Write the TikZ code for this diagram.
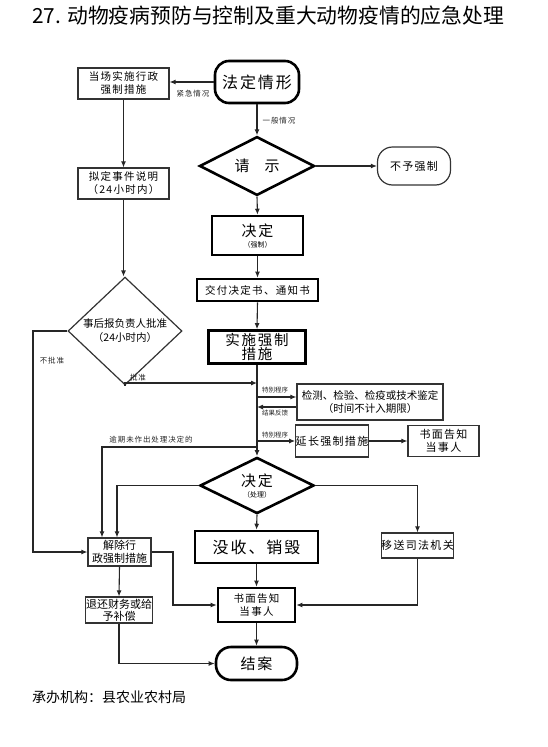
\documentclass[tikz,border=0pt]{standalone}
\usepackage{fontspec}
\newfontfamily\cjk{Noto Sans CJK SC}
\newfontfamily\cjksp[LetterSpace=12]{Noto Sans CJK SC}
\usetikzlibrary{arrows.meta,shapes.geometric}
\tikzset{
  box/.style={draw=black!80, line width=1.2pt, inner sep=0pt, align=center, fill=white},
  heavy/.style={draw=black, line width=2.6pt, inner sep=0pt, align=center, fill=white},
  dia/.style={diamond, inner sep=0pt, align=center},
  conn/.style={draw=black!85, line width=1.1pt},
  arr/.style={conn, -{Latex[length=6pt,width=5pt]}},
  lbl/.style={inner sep=0pt, font=\cjksp\fontsize{7.5}{9}\selectfont, text=black!85},
  tiny/.style={inner sep=0pt, font=\cjk\fontsize{6.5}{8}\selectfont, text=black!85},
  fs/.style={font=\cjksp\fontsize{#1}{#1}\selectfont},
}
\begin{document}
\begin{tikzpicture}[x=1pt,y=-1pt]
\useasboundingbox (0,0) rectangle (547,747);

% title and footer
\node[anchor=west, inner sep=0pt, font=\cjk\fontsize{20.8}{24}\selectfont] (title) at (32,16) {27. 动物疫病预防与控制及重大动物疫情的应急处理};
\node[anchor=west, inner sep=0pt, font=\cjk\fontsize{14}{16}\selectfont] (foot) at (32,697) {承办机构：县农业农村局};

% main column
\node[heavy, rounded corners=14pt, minimum width=84pt, minimum height=42pt, fs=16] (start) at (257,82) {法定情形};
\node[heavy, dia, minimum width=115pt, minimum height=54pt, fs=15] (d0) at (257,166) {请\hspace{1em}示};
\node[box, rounded corners=15pt, minimum width=73pt, minimum height=38pt, fs=11] (nocoerce) at (414,166) {不予强制};
\node[heavy, minimum width=91pt, minimum height=39pt] (dec1) at (257.5,235.5) {{\cjksp\fontsize{15}{17}\selectfont 决定}\\[-1pt]{\cjk\fontsize{7}{8}\selectfont （强制）}};
\node[heavy, minimum width=121pt, minimum height=22pt, fs=10.5] (deliver) at (257.5,290) {交付决定书、通知书};
\node[heavy, minimum width=97pt, minimum height=33pt, font=\cjksp\fontsize{14.5}{14}\selectfont] (impl) at (257,347) {实施强制\\措施};
\node[box, minimum width=146pt, minimum height=36pt, font=\cjk\fontsize{10.5}{13}\selectfont] (test) at (370,402) {检测、检验、检疫或技术鉴定\\（时间不计入期限）};
\node[box, minimum width=70pt, minimum height=32pt, fs=11] (ext) at (332,441) {延长强制措施};
\node[box, minimum width=71pt, minimum height=31pt, font=\cjksp\fontsize{11}{13}\selectfont] (notice1) at (443.5,441) {书面告知\\当事人};
\node[heavy, dia, minimum width=114pt, minimum height=55pt] (d2) at (257,485.5) {{\cjksp\fontsize{15}{16}\selectfont 决定}\\[-1pt]{\cjk\fontsize{7}{8}\selectfont （处理）}};
\node[heavy, minimum width=123pt, minimum height=32pt, fs=16] (confisc) at (256.5,547) {没收、销毁};
\node[box, minimum width=71pt, minimum height=25pt, fs=11] (transfer) at (417.5,545.5) {移送司法机关};
\node[heavy, minimum width=77pt, minimum height=34pt, font=\cjksp\fontsize{10.5}{13}\selectfont] (notice2) at (256.5,605) {书面告知\\当事人};
\node[heavy, rounded corners=15pt, minimum width=81pt, minimum height=33pt, fs=15] (end) at (256.5,663.5) {结案};

% left column
\node[box, minimum width=91pt, minimum height=31pt, font=\cjksp\fontsize{10.5}{13}\selectfont] (onsite) at (123.5,83.5) {当场实施行政\\强制措施};
\node[box, minimum width=91pt, minimum height=31pt, font=\cjksp\fontsize{10.5}{13}\selectfont] (draft) at (123.5,183.5) {拟定事件说明\\（24小时内）};
\node[box, dia, minimum width=114pt, minimum height=74pt, font=\cjk\fontsize{10.5}{14}\selectfont] (d1) at (125,331) {事后报负责人批准\\（24小时内）};
\node[box, minimum width=63pt, minimum height=28pt, font=\cjk\fontsize{11}{13}\selectfont] (release) at (119.5,552) {解除行\\政强制措施};
\node[box, minimum width=67pt, minimum height=26pt, font=\cjk\fontsize{11}{12}\selectfont] (refund) at (119,610) {退还财务或给\\予补偿};

% helper coordinates
\coordinate (pz) at (257,383);
\coordinate (t1) at (257,397);
\coordinate (t2) at (257,407);
\coordinate (t3) at (257,441);
\coordinate (t4) at (257,447);
\coordinate (rx1) at (102,0);
\coordinate (rx2) at (117,0);
\coordinate (nx) at (33,0);
\coordinate (cx) at (173,0);

% connectors
\draw[arr] (start.west) -- (start.west -| onsite.east);
\draw[arr] (start.south) -- (d0.north);
\draw[arr] (d0.east) -- (nocoerce.west);
\draw[arr] (d0.south) -- (dec1.north);
\draw[arr] (dec1.south) -- (deliver.north);
\draw[arr] (deliver.south) -- (impl.north);
\draw[arr] (impl.south) -- (d2.north);
\draw[arr] (onsite.south) -- (draft.north);
\draw[arr] (draft.south) -- (draft.south |- d1.north);
\draw[arr] (d1.south) |- (pz);
\draw[arr] (t1) -- (t1 -| test.west);
\draw[arr] (t2 -| test.west) -- (t2);
\draw[arr] (t3) -- (ext.west);
\draw[arr] (ext.east) -- (notice1.west);
\draw[arr] (t4) -| (rx1 |- release.north);
\draw[arr] (d2.west) -| (rx2 |- release.north);
\draw[arr] (d2.east) -| (transfer.north);
\draw[arr] (d2.south) -- (confisc.north);
\draw[arr] (d1.west) -| (nx |- release.west) -- (release.west);
\draw[arr] (release.east) -| (cx |- notice2.west) -- (notice2.west);
\draw[arr] (release.south) -- (refund.north);
\draw[arr] (refund.south) |- (end.west);
\draw[arr] (transfer.south) |- (notice2.east);
\draw[arr] (confisc.south) -- (notice2.north);
\draw[arr] (notice2.south) -- (end.north);

% labels
\node[lbl] (l1) at (193,94) {紧急情况};
\node[lbl] (l2) at (279,121) {一般情况};
\node[lbl] (l3) at (52,361) {不批准};
\node[lbl] (l4) at (138,378) {批准};
\node[tiny] (l5) at (275,390) {特别程序};
\node[tiny] (l6) at (275,413) {结果反馈};
\node[tiny] (l7) at (275,435) {特别程序};
\node[lbl] (l8) at (151,440) {逾期未作出处理决定的};
\end{tikzpicture}
\end{document}
